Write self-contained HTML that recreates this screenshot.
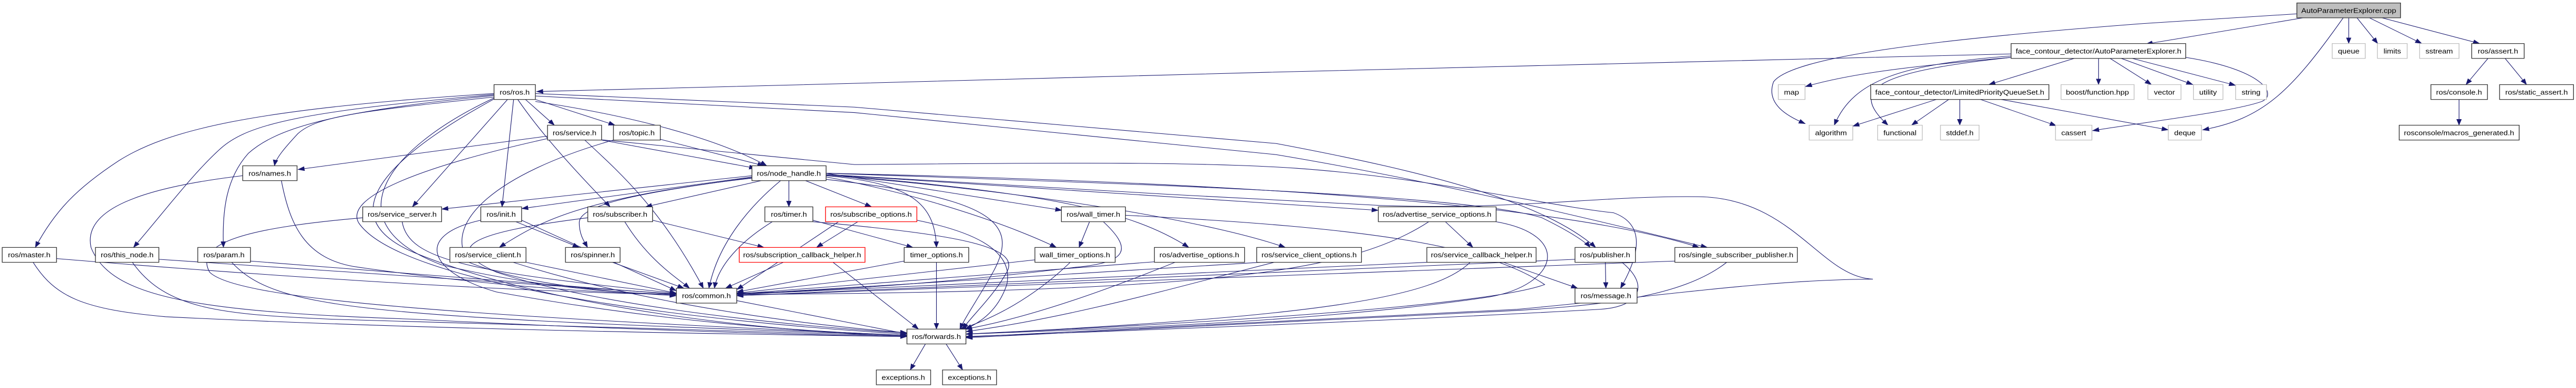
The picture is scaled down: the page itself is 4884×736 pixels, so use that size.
<!DOCTYPE html>
<html><head><meta charset="utf-8"><style>
html,body{margin:0;padding:0;background:#fff;}
svg{display:block}
text{font-family:"Liberation Sans",sans-serif;font-size:28px;text-anchor:middle;fill:#000}
.e{fill:none;stroke:#191970;stroke-width:2.2;marker-end:url(#a)}
.n{fill:#fff;stroke:#333;stroke-width:2.6}
.g{fill:#fff;stroke:#bfbfbf;stroke-width:2.6}
.r{fill:#fff;stroke:#ff0000;stroke-width:2.6}
</style></head><body>
<svg width="4884" height="736" viewBox="0 0 9339 1568" preserveAspectRatio="none" xmlns="http://www.w3.org/2000/svg">
<defs><marker id="a" markerUnits="userSpaceOnUse" markerWidth="26" markerHeight="20" refX="24" refY="9" orient="auto"><path d="M0,0 L24,9 L0,18 z" fill="#191970" stroke="#191970"/></marker></defs>
<g>
<path class="e" d="M8350 72 L7780 178"/>
<path class="e" d="M8515 72 L8515 176"/>
<path class="e" d="M8545 72 L8620 176"/>
<path class="e" d="M8590 72 L8780 176"/>
<path class="e" d="M8635 72 L8990 176"/>
<path class="e" d="M8495 72 C8300 380 8200 480 7985 525"/>
<path class="e" d="M7291 218 L4600 292 L3060 338 L1945 370"/>
<path class="e" d="M8327 56 L7771 95 C7000 160 6500 230 6430 330 C6400 420 6480 470 6545 500"/>
<path class="e" d="M7291 232 C6900 270 6700 300 6545 350"/>
<path class="e" d="M7520 236 L7210 342"/>
<path class="e" d="M7608 236 L7608 342"/>
<path class="e" d="M7650 236 L7800 342"/>
<path class="e" d="M7690 236 L7950 342"/>
<path class="e" d="M7730 236 L8105 345"/>
<path class="e" d="M7291 226 C6900 260 6720 320 6650 506"/>
<path class="e" d="M7291 232 C6800 290 6700 360 6845 506"/>
<path class="e" d="M7924 232 C8200 280 8260 380 8200 410 C8100 450 7800 490 7586 528"/>
<path class="e" d="M7020 402 L6717 510"/>
<path class="e" d="M7065 402 L6930 506"/>
<path class="e" d="M7105 402 L7105 506"/>
<path class="e" d="M7180 402 L7455 508"/>
<path class="e" d="M7255 402 L7861 525"/>
<path class="e" d="M9020 236 L8940 342"/>
<path class="e" d="M9082 236 L9160 342"/>
<path class="e" d="M8915 402 L8915 506"/>
<path class="e" d="M1791 378 C900 440 600 530 430 650 C280 760 200 850 128 1000"/>
<path class="e" d="M1791 382 C1100 450 900 500 800 600 C700 700 600 850 484 1000"/>
<path class="e" d="M1791 386 C1200 450 1000 520 900 620 C820 720 805 850 810 1000"/>
<path class="e" d="M1791 392 C1300 450 1150 470 1080 540 C1030 600 1000 640 995 670"/>
<path class="e" d="M1840 402 L1495 836"/>
<path class="e" d="M1862 402 L1820 836"/>
<path class="e" d="M1905 402 L2010 506"/>
<path class="e" d="M1941 402 L2230 506"/>
<path class="e" d="M1941 410 C2300 470 2600 560 2780 670"/>
<path class="e" d="M1877 402 C1950 520 2050 650 2212 836"/>
<path class="e" d="M1791 396 C1400 600 1200 900 1600 1070 C1900 1150 2200 1185 2452 1190"/>
<path class="e" d="M1791 400 C1300 700 1250 900 1500 1020 C2000 1250 2800 1340 3288 1360"/>
<path class="e" d="M1941 378 L3098 433 L4627 580 C5200 700 5600 820 5785 1000"/>
<path class="e" d="M1941 388 L3098 455 L4627 625 C5300 750 6000 950 6190 1000"/>
<path class="e" d="M2181 565 L3098 665 C3700 660 4300 650 4700 680 C5200 720 5600 830 5850 860 C5950 900 5960 1000 5875 1165"/>
<path class="e" d="M1985 550 L1080 685"/>
<path class="e" d="M2181 566 L2740 680"/>
<path class="e" d="M2120 566 C2250 700 2400 850 2550 1165"/>
<path class="e" d="M1985 560 C1500 680 1250 800 1300 900 C1450 1150 2500 1300 3288 1350"/>
<path class="e" d="M2394 563 L2770 670"/>
<path class="e" d="M2224 566 C1800 700 1600 900 1700 1060 C1900 1150 2200 1180 2452 1195"/>
<path class="e" d="M1020 730 C1050 900 1100 1050 1300 1080 C1800 1160 2200 1185 2452 1190"/>
<path class="e" d="M880 710 C500 760 300 850 330 1000 C400 1200 700 1260 1500 1290 C2200 1330 2800 1350 3288 1360"/>
<path class="e" d="M2726 710 L1601 845"/>
<path class="e" d="M2726 715 L1891 843"/>
<path class="e" d="M2760 730 L2340 836"/>
<path class="e" d="M2860 730 L2860 836"/>
<path class="e" d="M2920 730 L3160 836"/>
<path class="e" d="M2726 720 C2100 800 1950 900 1810 1000"/>
<path class="e" d="M2726 718 C2300 780 2100 830 2100 900 C2100 950 2120 980 2130 1000"/>
<path class="e" d="M2830 730 C2700 850 2600 1000 2570 1165"/>
<path class="e" d="M2995 700 L3850 850"/>
<path class="e" d="M2995 710 C3300 740 3390 820 3395 1000"/>
<path class="e" d="M2995 715 C3400 800 3700 930 3830 1000"/>
<path class="e" d="M2995 705 C3800 780 4100 850 4310 1000"/>
<path class="e" d="M2995 705 L4997 850"/>
<path class="e" d="M2995 708 C3800 780 4400 900 4660 1000"/>
<path class="e" d="M2995 700 C4000 740 5300 780 5590 880 C5700 940 5750 980 5765 1000"/>
<path class="e" d="M2995 725 C3600 800 3700 900 3600 1100 C3550 1200 3500 1280 3480 1330"/>
<path class="e" d="M2995 700 C4200 730 5600 800 6160 1000"/>
<path class="e" d="M2995 705 C3800 760 4300 790 5000 830 C5500 850 5800 790 6157 795 C6500 800 6600 1120 6790 1128 C6400 1130 6000 1200 5500 1250 L3502 1362"/>
<path class="e" d="M1458 896 C1480 1050 1700 1100 2452 1185"/>
<path class="e" d="M1315 880 C900 920 700 980 760 1100 C850 1200 1500 1270 3288 1355"/>
<path class="e" d="M1891 890 L2452 1175"/>
<path class="e" d="M1870 896 L2100 1000"/>
<path class="e" d="M1743 890 C1500 950 1550 1100 1800 1180 C2400 1300 2900 1340 3288 1355"/>
<path class="e" d="M2265 896 C2350 1050 2450 1120 2500 1165"/>
<path class="e" d="M2366 890 L2770 1000"/>
<path class="e" d="M2131 880 C1700 940 1600 1000 1800 1100 C2200 1250 3000 1330 3288 1345"/>
<path class="e" d="M2800 896 C2650 1000 2600 1100 2590 1165"/>
<path class="e" d="M2947 890 L3310 1000"/>
<path class="e" d="M2947 896 C3500 950 3700 1000 3650 1100 C3600 1200 3520 1280 3490 1330"/>
<path class="e" d="M3110 896 L2960 1000"/>
<path class="e" d="M3040 896 C2900 1000 2700 1150 2671 1170"/>
<path class="e" d="M3324 890 C3500 930 3680 1000 3650 1150 C3620 1250 3560 1300 3500 1330"/>
<path class="e" d="M3950 896 L3912 1000"/>
<path class="e" d="M4000 896 C4100 1000 4100 1060 3900 1080 C3400 1150 2900 1180 2671 1185"/>
<path class="e" d="M4080 870 C5000 920 5400 1000 5600 1150 C5400 1230 4500 1300 3502 1350"/>
<path class="e" d="M5240 896 L5340 1000"/>
<path class="e" d="M5180 896 C4900 1100 4400 1180 2671 1190"/>
<path class="e" d="M5424 896 C5700 950 5650 1150 5400 1200 C4800 1300 4000 1330 3502 1350"/>
<path class="e" d="M205 1045 C800 1100 1800 1180 2452 1190"/>
<path class="e" d="M120 1060 C200 1200 300 1250 600 1280 C1500 1330 2600 1350 3288 1360"/>
<path class="e" d="M576 1048 L2452 1188"/>
<path class="e" d="M480 1060 C600 1250 800 1270 1200 1290 L3288 1358"/>
<path class="e" d="M908 1055 L2452 1190"/>
<path class="e" d="M840 1060 C1000 1250 1300 1280 3288 1355"/>
<path class="e" d="M1907 1060 L2452 1185"/>
<path class="e" d="M1860 1060 C2400 1250 3000 1320 3288 1345"/>
<path class="e" d="M2220 1060 L2480 1165"/>
<path class="e" d="M2840 1060 L2630 1165"/>
<path class="e" d="M3020 1060 L3330 1330"/>
<path class="e" d="M3278 1055 L2671 1180"/>
<path class="e" d="M3395 1060 L3395 1330"/>
<path class="e" d="M3752 1050 L2671 1185"/>
<path class="e" d="M3880 1060 C3750 1200 3600 1290 3480 1330"/>
<path class="e" d="M4185 1058 L2671 1188"/>
<path class="e" d="M4260 1060 C3950 1200 3700 1290 3500 1330"/>
<path class="e" d="M4570 1060 L2671 1190"/>
<path class="e" d="M4620 1060 C4300 1150 3900 1280 3502 1340"/>
<path class="e" d="M5450 1060 L5720 1165"/>
<path class="e" d="M5173 1060 L2671 1190"/>
<path class="e" d="M5330 1060 C5200 1200 4800 1280 3502 1350"/>
<path class="e" d="M5820 1060 L5822 1165"/>
<path class="e" d="M5710 1048 L2671 1195"/>
<path class="e" d="M5880 1060 C5980 1150 5950 1240 5800 1250 C5000 1300 4000 1340 3502 1360"/>
<path class="e" d="M6072 1055 L2671 1195"/>
<path class="e" d="M6260 1060 C6100 1200 5800 1240 5400 1260 L3502 1365"/>
<path class="e" d="M2671 1215 L3290 1350"/>
<path class="e" d="M3355 1390 L3300 1495"/>
<path class="e" d="M3430 1390 L3490 1495"/>
</g>
<g>
<rect x="8327" y="12" width="376" height="60" fill="#bfbfbf" stroke="#333" stroke-width="2.6"/><text x="8515" y="52">AutoParameterExplorer.cpp</text>
<rect class="n" x="7291" y="176" width="633" height="60"/><text x="7608" y="216">face_contour_detector/AutoParameterExplorer.h</text>
<rect class="g" x="8455" y="176" width="120" height="60"/><text x="8515" y="216">queue</text>
<rect class="g" x="8619" y="176" width="108" height="60"/><text x="8673" y="216">limits</text>
<rect class="g" x="8772" y="176" width="143" height="60"/><text x="8843" y="216">sstream</text>
<rect class="n" x="8961" y="176" width="190" height="60"/><text x="9056" y="216">ros/assert.h</text>
<rect class="n" x="1791" y="342" width="150" height="60"/><text x="1866" y="382">ros/ros.h</text>
<rect class="g" x="6447" y="342" width="97" height="60"/><text x="6495" y="382">map</text>
<rect class="n" x="6782" y="342" width="646" height="60"/><text x="7105" y="382">face_contour_detector/LimitedPriorityQueueSet.h</text>
<rect class="g" x="7472" y="342" width="265" height="60"/><text x="7604" y="382">boost/function.hpp</text>
<rect class="g" x="7787" y="342" width="120" height="60"/><text x="7847" y="382">vector</text>
<rect class="g" x="7952" y="342" width="107" height="60"/><text x="8005" y="382">utility</text>
<rect class="g" x="8105" y="342" width="112" height="60"/><text x="8161" y="382">string</text>
<rect class="n" x="8813" y="342" width="205" height="60"/><text x="8915" y="382">ros/console.h</text>
<rect class="n" x="9062" y="342" width="268" height="60"/><text x="9196" y="382">ros/static_assert.h</text>
<rect class="n" x="1985" y="506" width="196" height="60"/><text x="2083" y="546">ros/service.h</text>
<rect class="n" x="2224" y="506" width="170" height="60"/><text x="2309" y="546">ros/topic.h</text>
<rect class="g" x="6559" y="506" width="158" height="60"/><text x="6638" y="546">algorithm</text>
<rect class="g" x="6807" y="506" width="162" height="60"/><text x="6888" y="546">functional</text>
<rect class="g" x="7035" y="506" width="140" height="60"/><text x="7105" y="546">stddef.h</text>
<rect class="g" x="7452" y="506" width="132" height="60"/><text x="7518" y="546">cassert</text>
<rect class="g" x="7861" y="506" width="120" height="60"/><text x="7921" y="546">deque</text>
<rect class="n" x="8698" y="506" width="435" height="60"/><text x="8915" y="546">rosconsole/macros_generated.h</text>
<rect class="n" x="880" y="670" width="197" height="60"/><text x="978" y="710">ros/names.h</text>
<rect class="n" x="2726" y="670" width="269" height="60"/><text x="2860" y="710">ros/node_handle.h</text>
<rect class="n" x="1315" y="836" width="286" height="60"/><text x="1458" y="876">ros/service_server.h</text>
<rect class="n" x="1743" y="836" width="148" height="60"/><text x="1817" y="876">ros/init.h</text>
<rect class="n" x="2131" y="836" width="235" height="60"/><text x="2248" y="876">ros/subscriber.h</text>
<rect class="n" x="2773" y="836" width="174" height="60"/><text x="2860" y="876">ros/timer.h</text>
<rect class="r" x="2993" y="836" width="331" height="60"/><text x="3158" y="876">ros/subscribe_options.h</text>
<rect class="n" x="3848" y="836" width="232" height="60"/><text x="3964" y="876">ros/wall_timer.h</text>
<rect class="n" x="4997" y="836" width="427" height="60"/><text x="5210" y="876">ros/advertise_service_options.h</text>
<rect class="n" x="8" y="1000" width="197" height="60"/><text x="106" y="1040">ros/master.h</text>
<rect class="n" x="346" y="1000" width="230" height="60"/><text x="461" y="1040">ros/this_node.h</text>
<rect class="n" x="717" y="1000" width="191" height="60"/><text x="812" y="1040">ros/param.h</text>
<rect class="n" x="1631" y="1000" width="276" height="60"/><text x="1769" y="1040">ros/service_client.h</text>
<rect class="n" x="2050" y="1000" width="198" height="60"/><text x="2149" y="1040">ros/spinner.h</text>
<rect class="r" x="2680" y="1000" width="456" height="60"/><text x="2908" y="1040">ros/subscription_callback_helper.h</text>
<rect class="n" x="3278" y="1000" width="234" height="60"/><text x="3395" y="1040">timer_options.h</text>
<rect class="n" x="3752" y="1000" width="291" height="60"/><text x="3897" y="1040">wall_timer_options.h</text>
<rect class="n" x="4185" y="1000" width="327" height="60"/><text x="4348" y="1040">ros/advertise_options.h</text>
<rect class="n" x="4556" y="1000" width="380" height="60"/><text x="4746" y="1040">ros/service_client_options.h</text>
<rect class="n" x="5173" y="1000" width="396" height="60"/><text x="5371" y="1040">ros/service_callback_helper.h</text>
<rect class="n" x="5710" y="1000" width="219" height="60"/><text x="5819" y="1040">ros/publisher.h</text>
<rect class="n" x="6072" y="1000" width="444" height="60"/><text x="6294" y="1040">ros/single_subscriber_publisher.h</text>
<rect class="n" x="2452" y="1165" width="219" height="60"/><text x="2561" y="1205">ros/common.h</text>
<rect class="n" x="5710" y="1165" width="225" height="60"/><text x="5822" y="1205">ros/message.h</text>
<rect class="n" x="3288" y="1330" width="214" height="60"/><text x="3395" y="1370">ros/forwards.h</text>
<rect class="n" x="3177" y="1495" width="197" height="60"/><text x="3275" y="1535">exceptions.h</text>
<rect class="n" x="3417" y="1495" width="196" height="60"/><text x="3515" y="1535">exceptions.h</text>
</g>
</svg>
</body></html>
